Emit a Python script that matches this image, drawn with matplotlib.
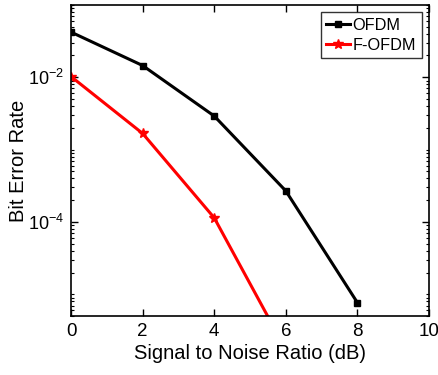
import matplotlib
matplotlib.use("Agg")
import matplotlib.pyplot as plt
import matplotlib.ticker as mticker
import numpy as np

plt.rcParams['font.family'] = ['Liberation Sans', 'DejaVu Sans']
plt.rcParams['mathtext.fontset'] = 'custom'
plt.rcParams['mathtext.rm'] = 'Liberation Sans'

snr = [0, 2, 4, 6, 8]
ber_ofdm = [0.042, 0.0145, 2.91e-3, 2.69e-4, 7.7e-6]
snr_f = [0, 2, 4, 6]
ber_fofdm = [0.0102, 1.67e-3, 1.14e-4, 1.73e-6]

fig = plt.figure(figsize=(4.39, 3.75), dpi=100)
ax = fig.add_axes([0.162, 0.157, 0.815, 0.830])

ax.semilogy(snr, ber_ofdm, color='black', lw=2.2, marker='s', ms=4.5, label='OFDM')
ax.semilogy(snr_f, ber_fofdm, color='red', lw=2.2, marker='*', ms=7, label='F-OFDM')

ax.set_xlim(0, 10)
ax.set_ylim(5e-6, 1e-1)
ax.set_xticks([0, 2, 4, 6, 8, 10])
ax.yaxis.set_major_locator(mticker.FixedLocator([1e-6, 1e-4, 1e-2, 1e0]))
ax.yaxis.set_major_formatter(mticker.FuncFormatter(
    lambda v, p: '10$^{\\mathregular{%d}}$' % int(round(np.log10(v)))))
minors = []
for d in range(-7, 1):
    for k in range(1, 10):
        v = k * 10.0**d
        if not (k == 1 and d % 2 == 0):
            minors.append(v)
ax.yaxis.set_minor_locator(mticker.FixedLocator(minors))
ax.yaxis.set_minor_formatter(mticker.NullFormatter())

ax.tick_params(which='both', direction='in', top=True, right=True, labelsize=13.5)
ax.tick_params(axis='y', labelsize=13)
ax.tick_params(which='major', length=5, width=1, pad=5)
ax.tick_params(which='minor', length=2.5, width=0.8)
for s in ax.spines.values():
    s.set_linewidth(1.2)

ax.set_xlabel('Signal to Noise Ratio (dB)', fontsize=14.5, labelpad=3)
ax.set_ylabel('Bit Error Rate', fontsize=14.5, labelpad=0)

leg = ax.legend(loc='upper right', fontsize=11.7, frameon=True, fancybox=False,
                edgecolor='black', handlelength=1.45, handletextpad=0.15,
                borderpad=0.35, labelspacing=0.3, borderaxespad=0.45)
leg.get_frame().set_linewidth(1.0)

fig.savefig('out.png', dpi=100)
